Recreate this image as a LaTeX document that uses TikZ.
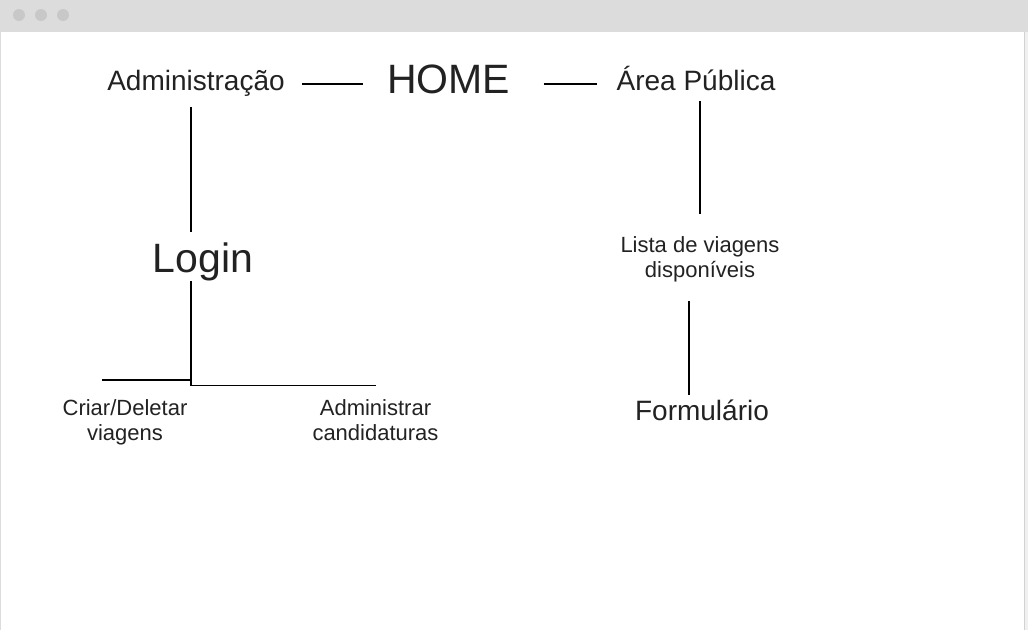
\documentclass[tikz,border=0pt]{standalone}
\usepackage{fontspec}
\setmainfont{Liberation Sans}
\definecolor{barcol}{HTML}{DCDCDC}
\definecolor{dotcol}{HTML}{C8C8C8}
\definecolor{txtcol}{HTML}{222222}

\begin{document}
\begin{tikzpicture}[x=1pt,y=-1pt,line width=1.2pt,
  txt/.style={inner sep=0pt,text=txtcol,align=center},
  huge/.style={txt,font=\fontsize{41}{46}\selectfont},
  mid/.style={txt,font=\fontsize{28}{32}\selectfont},
  small/.style={txt,font=\fontsize{22}{25}\selectfont}]
\useasboundingbox (0,0) rectangle (1028,630);

% window frame
\fill[barcol] (0,0) rectangle (1028,630);
\fill[white] (1,32) rectangle (1024,630);
\fill[gray!12] (1025,32) rectangle (1028,630);
\draw[gray!35,line width=1pt] (1024.5,32) -- (1024.5,630);
\foreach \x in {19,41,63}
  \fill[dotcol] (\x,15) circle (6);

% top row
\node[mid,anchor=base] (adm) at (196,90) {Administração};
\node[huge,anchor=base] (home) at (448.5,93) {HOME};
\node[mid,anchor=base] (pub) at (696,90) {Área Pública};

% left branch
\node[huge,anchor=base] (login) at (203,272) {Login};
\node[small] (criar) at (125,422) {Criar/Deletar\\viagens};
\node[small] (cand) at (375.5,420) {Administrar\\candidaturas};
\coordinate (knee) at ([shift={(-12,108)}]login.base);
\coordinate (criartop) at ([shift={(-23,-19)}]criar.north);

% right branch
\node[small] (lista) at (700,259.5) {Lista de viagens\\disponíveis};
\node[mid,anchor=base] (form) at (702,420) {Formulário};

% links
\draw ([shift={(17,-6)}]adm.base east) -- ([shift={(-23,-9)}]home.base west);
\draw ([shift={(33,-9)}]home.base east) -- ([shift={(-19,-6)}]pub.base west);
\draw ([shift={(-5,17)}]adm.base) -- ([shift={(-12,-40)}]login.base);
\draw ([shift={(-12,9)}]login.base) |- ([shift={(0.5,-13.5)}]cand.north);
\draw (knee) -- (knee -| criartop);
\draw ([shift={(4,11)}]pub.base) -- ([shift={(0,-22)}]lista.north);
\draw ([shift={(-11,18)}]lista.south) -- ([shift={(-13,-25)}]form.base);
\end{tikzpicture}
\end{document}
